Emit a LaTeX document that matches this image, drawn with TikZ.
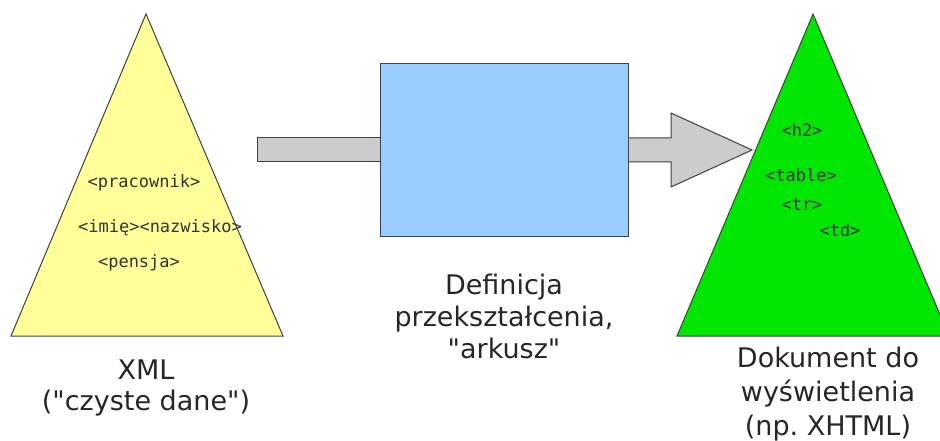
\documentclass[tikz,border=0pt]{standalone}
\usepackage{fontspec}
\setmainfont{DejaVu Sans}
\newfontfamily\tagfont{DejaVu Sans Mono}
\frenchspacing
\begin{document}
\begin{tikzpicture}[x=1pt,y=-1pt,
  shape line/.style={draw=black!75,line width=1pt,line join=miter},
  tagtxt/.style={font=\tagfont\fontsize{17}{17}\selectfont,inner sep=0pt,text=black!80},
  lbl/.style={align=center,inner sep=0pt,text=black!85}]
\useasboundingbox (0,0) rectangle (940,441);
\clip (0,0) rectangle (940,441);
% yellow triangle
\filldraw[shape line,fill={rgb,255:red,255;green,255;blue,153}] (146,14) -- (283,336) -- (11,336) -- cycle;
% green triangle
\filldraw[shape line,fill={rgb,255:red,0;green,230;blue,0}] (813,14) -- (949,336) -- (677,336) -- cycle;
% left arrow shaft
\filldraw[shape line,fill={rgb,255:red,204;green,204;blue,204}] (257,138) rectangle (380,162);
% right arrow
\filldraw[shape line,fill={rgb,255:red,204;green,204;blue,204}] (628,138) -- (671,138) -- (671,113) -- (752,150) -- (671,187) -- (671,162) -- (628,162) -- cycle;
% blue box
\node[shape line,fill={rgb,255:red,153;green,204;blue,255},minimum width=248pt,minimum height=173pt,inner sep=0pt,anchor=north west] (box) at (380,63) {};
% tags
\node[tagtxt] (t1) at (144,183) {<pracownik>};
\node[tagtxt] (t2) at (160,228) {<imię><nazwisko>};
\node[tagtxt] (t3) at (139,263) {<pensja>};
\node[tagtxt] (h1) at (802,130) {<h2>};
\node[tagtxt] (h2) at (801,175) {<table>};
\node[tagtxt] (h3) at (802,205) {<tr>};
\node[tagtxt] (h4) at (840,230) {<td>};
% labels
\node[lbl,font=\fontsize{27}{31}\selectfont] (l1) at (146,388) {XML\\(\textquotedbl czyste dane\textquotedbl)};
\node[lbl,font=\fontsize{27}{32}\selectfont] (l2) at (504,316) {Definicja\\przekształcenia,\\\textquotedbl arkusz\textquotedbl};
\node[lbl,font=\fontsize{27}{34}\selectfont] (l3) at (828,394) {Dokument do\\wyświetlenia\\(np. XHTML)};
\end{tikzpicture}
\end{document}
